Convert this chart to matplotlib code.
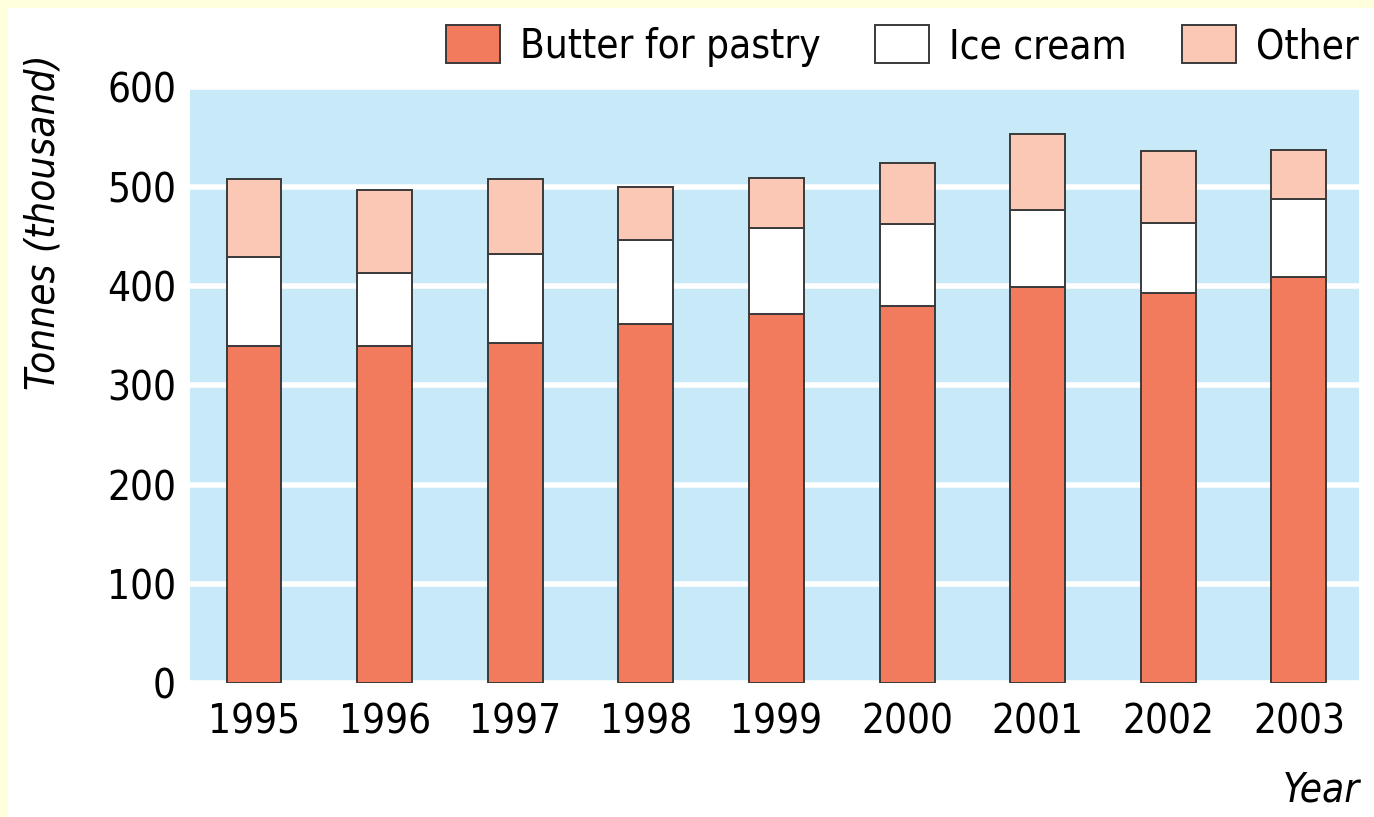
import matplotlib.pyplot as plt
import numpy as np
from matplotlib.patches import Rectangle

years = ["1995", "1996", "1997", "1998", "1999", "2000", "2001", "2002", "2003"]
butter = [340, 340, 343, 362, 372, 380, 399, 393, 409]
ice_cream = [89, 73, 89, 84, 86, 82, 77, 70, 79]
other = [79, 84, 76, 54, 51, 62, 77, 73, 49]

series_names = ["Butter for pastry", "Ice cream", "Other"]
colors = ["#F27B5E", "#FFFFFF", "#FAC8B4"]

plt.rcParams["font.family"] = ["DejaVu Sans"]
plt.rcParams["font.stretch"] = "condensed"

fig = plt.figure(figsize=(13.74, 8.17), dpi=100)
fig.patch.set_facecolor("white")
# thin yellow frame along top and left edges
fig.patches.append(Rectangle((0, 1 - 8 / 817), 1, 8 / 817, transform=fig.transFigure,
                             facecolor="#FFFFDD", edgecolor="none", zorder=0))
fig.patches.append(Rectangle((0, 0), 8 / 1374, 1, transform=fig.transFigure,
                             facecolor="#FFFFDD", edgecolor="none", zorder=0))

ax = fig.add_axes([190 / 1374, (817 - 683.3) / 817, (1359 - 190) / 1374, (683.3 - 87.3) / 817])
ax.set_facecolor("#C8E9F8")

x = np.arange(len(years))
width = 0.42
bottom = np.zeros(len(years))
for name, vals, col in zip(series_names, [butter, ice_cream, other], colors):
    ax.bar(x, vals, width, bottom=bottom, color=col, edgecolor="#3a3a3a",
           linewidth=1.4, label=name, zorder=3)
    bottom += np.array(vals)

ax.set_ylim(0, 600)
ax.set_xlim(-0.49, 8.46)
ax.set_yticks(np.arange(0, 601, 100))
ax.set_xticks(x)
ax.set_xticklabels(years)
ax.yaxis.grid(True, color="white", linewidth=4)
ax.set_axisbelow(True)
for s in ax.spines.values():
    s.set_visible(False)
ax.tick_params(axis="both", length=0, labelsize=29)
ax.tick_params(axis="y", pad=10)
ax.tick_params(axis="x", pad=14)

fig.text(43 / 1374, 1 - 222 / 817, "Tonnes (thousand)", rotation=90, style="italic",
         fontsize=29, ha="center", va="center")
fig.text(1360 / 1374, 1 - 790 / 817, "Year", style="italic", fontsize=29,
         ha="right", va="center")

ax.legend(loc="lower right", bbox_to_anchor=(1.017, 1.0), ncol=3, frameon=False,
          fontsize=29, handlelength=1.34, handleheight=1.07, handletextpad=0.5,
          columnspacing=1.36, borderaxespad=0.5, borderpad=0.0)

fig.savefig("out.png", dpi=100)
